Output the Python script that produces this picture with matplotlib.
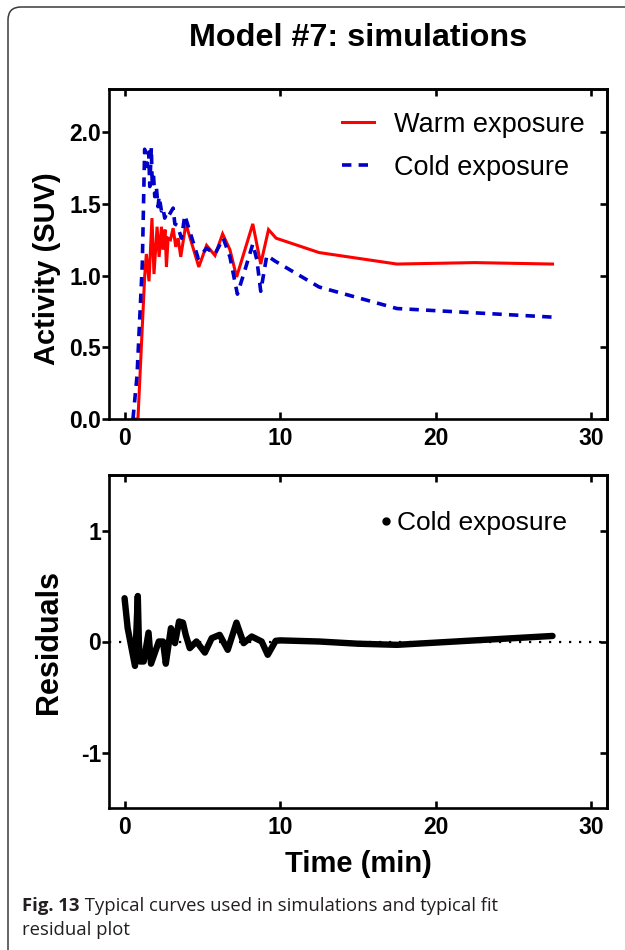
import matplotlib
matplotlib.use("Agg")
import matplotlib.pyplot as plt
from matplotlib.patches import FancyBboxPatch
from matplotlib.lines import Line2D

# ---------------- data ----------------
warm_t = [0.54, 0.86, 1.29, 1.40, 1.57, 1.76, 1.89, 2.09, 2.22, 2.37, 2.47, 2.60, 2.69,
          2.80, 2.95, 3.12, 3.29, 3.44, 3.61, 3.94, 4.77, 5.27, 5.81, 6.30, 6.77, 7.20,
          8.24, 8.75, 9.25, 9.74, 12.5, 17.5, 22.5, 27.5]
warm_v = [0.0, 0.0, 0.99, 1.15, 0.96, 1.40, 1.01, 1.34, 1.13, 1.34, 1.18, 1.32, 1.06,
          1.26, 1.25, 1.33, 1.20, 1.26, 1.13, 1.36, 1.06, 1.21, 1.14, 1.29, 1.18, 0.99,
          1.36, 1.08, 1.32, 1.26, 1.16, 1.08, 1.09, 1.08]

cold_t = [0.54, 0.80, 1.14, 1.29, 1.45, 1.55, 1.62, 1.72, 1.78, 1.85, 1.94, 2.04, 2.15,
          2.22, 2.37, 2.47, 2.58, 2.69, 2.80, 3.12, 3.23, 3.38, 3.66, 3.87, 4.30, 4.73,
          5.27, 5.81, 6.34, 6.77, 7.25, 7.74, 8.24, 8.50, 8.75, 9.14, 9.68, 12.5, 17.5,
          22.5, 27.5]
cold_v = [0.0, 0.30, 1.08, 1.88, 1.76, 1.86, 1.62, 1.89, 1.62, 1.72, 1.55, 1.62, 1.48,
          1.55, 1.45, 1.47, 1.40, 1.43, 1.41, 1.47, 1.36, 1.35, 1.26, 1.42, 1.27, 1.12,
          1.19, 1.15, 1.26, 1.13, 0.87, 1.04, 1.22, 1.11, 0.89, 1.14, 1.10, 0.92, 0.77,
          0.74, 0.71]

res_t = [0.0, 0.2, 0.67, 0.85, 0.92, 0.98, 1.23, 1.54, 1.70, 2.20, 2.47, 2.65, 2.98,
         3.24, 3.50, 3.75, 3.93, 4.19, 4.62, 5.16, 5.60, 6.11, 6.63, 7.19, 7.65, 8.17,
         8.81, 9.20, 9.71, 10.0, 12.5, 15.0, 17.5, 20.0, 22.5, 25.0, 27.5]
res_v = [0.39, 0.12, -0.22, 0.41, 0.0, -0.18, -0.18, 0.08, -0.20, 0.0, 0.0, -0.20, 0.12,
         -0.015, 0.18, 0.17, 0.06, -0.06, 0.0, -0.10, 0.03, 0.06, -0.075, 0.17, -0.015,
         0.045, 0.0, -0.12, 0.006, 0.01, 0.0, -0.02, -0.03, -0.01, 0.01, 0.03, 0.05]

x_ticks = [0, 10, 20, 30]
top_yticks = [0.0, 0.5, 1.0, 1.5, 2.0]
bot_yticks = [-1, 0, 1]

title = "Model #7: simulations"
caption_bold = "Fig. 13"
caption_rest1 = " Typical curves used in simulations and typical fit"
caption_rest2 = "residual plot"

# ---------------- style ----------------
plt.rcParams['font.family'] = ['Liberation Sans', 'DejaVu Sans']
W, H = 625, 950
fig = plt.figure(figsize=(W / 100, H / 100), dpi=100)

SPW = 1.9
TL = 5.0
TFS = 16.5

def style_axes(ax, yticks, yfmt):
    for s in ax.spines.values():
        s.set_linewidth(SPW)
    ax.set_xlim(-1, 31)
    ax.set_xticks(x_ticks)
    ax.set_xticklabels([str(v) for v in x_ticks], fontweight='bold', fontsize=TFS)
    ax.set_yticks(yticks)
    ax.set_yticklabels([yfmt(v) for v in yticks], fontweight='bold', fontsize=TFS)
    ax.tick_params(axis='x', direction='in', length=TL, width=SPW, pad=6)
    ax.tick_params(axis='y', direction='out', length=TL, width=SPW, pad=0.8)
    top = ax.secondary_xaxis('top')
    top.set_xticks(x_ticks)
    top.tick_params(direction='in', length=TL, width=SPW, labeltop=False)
    top.spines['top'].set_linewidth(SPW)
    right = ax.secondary_yaxis('right')
    right.set_yticks(yticks)
    right.tick_params(direction='in', length=TL, width=SPW, labelright=False)
    right.spines['right'].set_linewidth(SPW)

# top axes
ax1 = fig.add_axes([109 / W, 1 - 419 / H, (607 - 109) / W, (419 - 89) / H])
ax1.plot(warm_t, warm_v, color='#ff0000', lw=2.2, label='Warm exposure',
         solid_joinstyle='miter')
ax1.plot(cold_t, cold_v, color='#0000c8', lw=2.6, ls=(0, (2.6, 2.0)),
         label='Cold exposure')
ax1.set_ylim(0, 2.3)
style_axes(ax1, top_yticks, lambda v: f"{v:.1f}")
ax1.set_ylabel("Activity (SUV)", fontsize=21, fontweight='bold')
ax1.yaxis.set_label_coords(-0.097, 0.455)
ax1.legend(loc='upper right', bbox_to_anchor=(0.977, 0.964), frameon=False,
           fontsize=19.5, handlelength=1.2, handletextpad=0.72,
           labelspacing=0.62, borderaxespad=0)

# bottom axes
ax2 = fig.add_axes([109 / W, 1 - 808 / H, (607 - 109) / W, (808 - 475) / H])
ax2.axhline(0, color='black', lw=1.6, ls=(0, (1, 3.5)), zorder=1)
ax2.plot(res_t, res_v, color='black', lw=4.6, solid_capstyle='round',
         solid_joinstyle='round', zorder=2)
ax2.set_ylim(-1.5, 1.5)
style_axes(ax2, bot_yticks, lambda v: f"{v:d}")
ax2.set_ylabel("Residuals", fontsize=22, fontweight='bold')
ax2.yaxis.set_label_coords(-0.09, 0.5)
ax2.set_xlabel("Time (min)", fontsize=21, fontweight='bold', labelpad=8)
h = Line2D([], [], ls='none', marker='o', color='black', ms=5)
ax2.legend([h], ['Cold exposure'], loc='upper right', bbox_to_anchor=(0.94, 0.924),
           frameon=False, fontsize=19, handlelength=0.4, handletextpad=0.2,
           borderaxespad=0)

# title
fig.text((109 + 607) / 2 / W, 1 - 38 / H, title, ha='center', va='center',
         fontsize=23.3, fontweight='bold')

# border
border = FancyBboxPatch((8 / 100, -1.0), 8.0, (H - 7) / 100 + 1.0,
                        boxstyle="round,pad=0,rounding_size=0.13",
                        transform=fig.dpi_scale_trans, fill=False,
                        edgecolor='#3a3a3a', lw=1.1, zorder=10)
fig.patches.append(border)

# caption
cap_font = ['Open Sans', 'DejaVu Sans']
CFS = 13.3
cx, cy1, cy2 = 22 / W, 1 - 906 / H, 1 - 930 / H
t_b = fig.text(cx, cy1, caption_bold, fontsize=CFS, fontweight='bold',
               family=cap_font, va='center', ha='left', color='#231f20')
fig.canvas.draw()
bb = t_b.get_window_extent(fig.canvas.get_renderer())
fig.text(bb.x1 / W, cy1, caption_rest1, fontsize=CFS, family=cap_font,
         va='center', ha='left', color='#231f20')
fig.text(cx, cy2, caption_rest2, fontsize=CFS, family=cap_font,
         va='center', ha='left', color='#231f20')

fig.savefig("out.png", dpi=100)
